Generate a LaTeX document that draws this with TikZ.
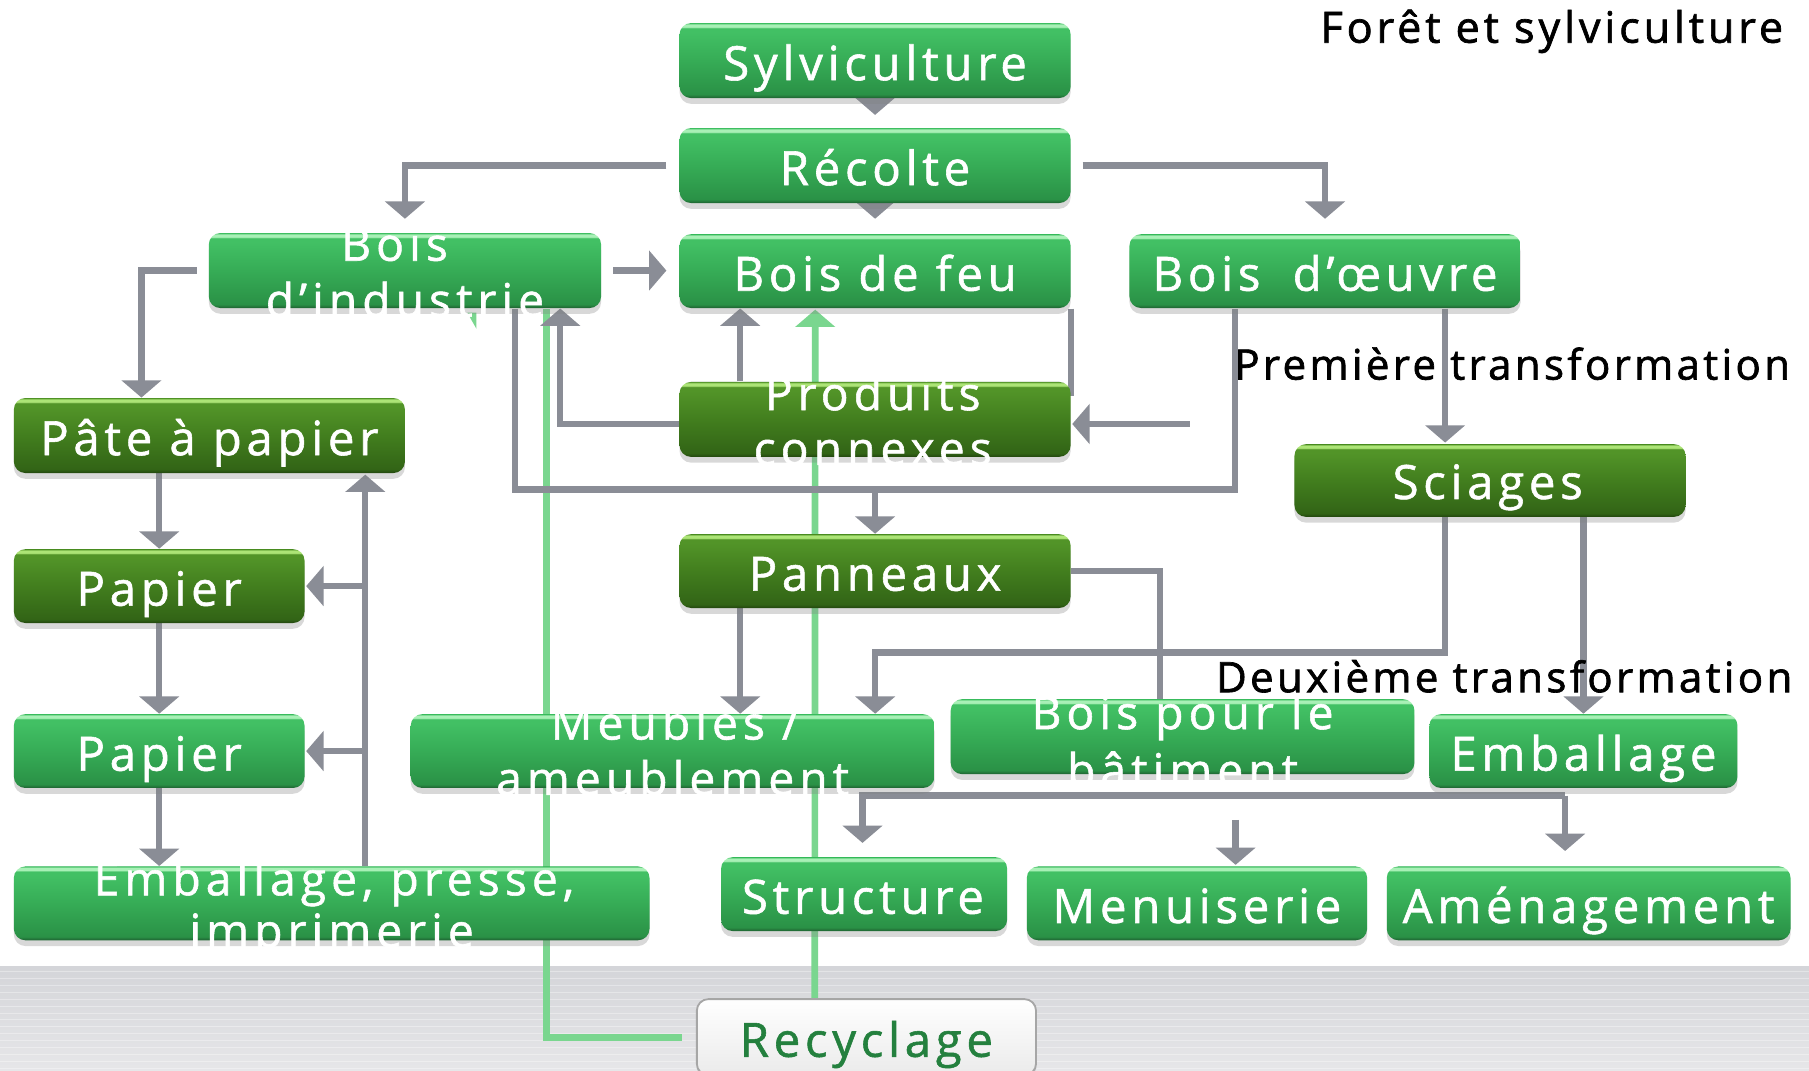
\documentclass[tikz,border=0pt]{standalone}
\usepackage{fontspec}
\setmainfont{Open Sans}
\newfontfamily\boxfont[LetterSpace=10,FakeBold=1.2]{Open Sans}
\newfontfamily\boxfontb[LetterSpace=11,FakeBold=1.2]{Open Sans}
\newfontfamily\labfont[LetterSpace=8,FakeBold=1.6]{Open Sans}
\newfontfamily\titfont[LetterSpace=9,FakeBold=1.6]{Open Sans}
\usetikzlibrary{arrows.meta,calc,shadows}

\definecolor{mH}{RGB}{168,240,182}
\definecolor{m0}{RGB}{66,192,100}
\definecolor{m1}{RGB}{54,172,86}
\definecolor{m2}{RGB}{42,145,70}
\definecolor{mB}{RGB}{30,96,48}
\definecolor{dH}{RGB}{172,228,118}
\definecolor{d0}{RGB}{82,148,40}
\definecolor{d1}{RGB}{66,126,30}
\definecolor{d2}{RGB}{50,100,22}
\definecolor{dB}{RGB}{34,70,14}
\definecolor{lgray}{RGB}{138,141,150}
\definecolor{lgreen}{RGB}{122,214,143}
\definecolor{rgreen}{RGB}{36,128,62}
\definecolor{band1}{RGB}{212,213,217}
\definecolor{band2}{RGB}{232,232,234}

\pgfdeclareverticalshading{medgreen}{100bp}{color(0bp)=(mB); color(25bp)=(mB); color(27.5bp)=(m2); color(50bp)=(m1); color(69bp)=(m0); color(71.5bp)=(m0); color(72.5bp)=(mH); color(74bp)=(mH); color(75bp)=(m0); color(100bp)=(m0)}
\pgfdeclareverticalshading{olivegreen}{100bp}{color(0bp)=(dB); color(25bp)=(dB); color(27.5bp)=(d2); color(50bp)=(d1); color(69bp)=(d0); color(71.5bp)=(d0); color(72.5bp)=(dH); color(74bp)=(dH); color(75bp)=(d0); color(100bp)=(d0)}

\pgfdeclarelayer{bg}
\pgfdeclarelayer{lines}
\pgfsetlayers{bg,lines,main}

\tikzset{
  gbox/.style={rounded corners=5pt, shade, shading=medgreen, inner sep=0pt,
    drop shadow={shadow xshift=0pt, shadow yshift=-2.5pt, opacity=0.3}},
  obox/.style={rounded corners=5pt, shade, shading=olivegreen, inner sep=0pt,
    drop shadow={shadow xshift=0pt, shadow yshift=-2.5pt, opacity=0.3}},
  rbox/.style={rounded corners=5pt, top color=white, bottom color=black!8, draw=black!35, line width=0.8pt, inner sep=0pt,
    drop shadow={shadow xshift=0pt, shadow yshift=-2pt, opacity=0.2}},
  bt/.style={text=white, font={\boxfont\fontsize{20.5pt}{24pt}\selectfont}, inner sep=0pt, anchor=base},
  btt/.style={text=white, font={\boxfontb\fontsize{20pt}{24pt}\selectfont}, inner sep=0pt, anchor=base},
  lab/.style={text=black, font={\labfont\fontsize{18.2pt}{22pt}\selectfont}, inner sep=0pt, anchor=base east},
  tit/.style={text=black, font={\titfont\fontsize{18.7pt}{22pt}\selectfont}, inner sep=0pt, anchor=base east},
  gline/.style={draw=lgray, line width=2.75pt},
  garrow/.style={gline, -{Triangle[width=17pt,length=7.5pt]}},
  greenl/.style={draw=lgreen, line width=2.9pt},
  greenarr/.style={greenl, -{Triangle[width=17pt,length=7.5pt]}}
}

\newcommand\mkbox[6]{\node[#6, minimum width={(#4-#2)*0.5pt}, minimum height={(#5-#3)*0.5pt}] (#1) at ({(#2+#4)/2},{(#3+#5)/2}) {};}

\begin{document}
\begin{tikzpicture}[x=0.5pt,y=-0.5pt]
\useasboundingbox (0,0) rectangle (1568,928);
\begin{pgfonlayer}{bg}
  \fill[white] (0,0) rectangle (1568,928);
  \shade[top color=band1, bottom color=band2] (0,838) rectangle (1568,935);
  \foreach \yy in {842,848,...,926} {\draw[white, opacity=0.35, line width=0.4pt] (0,\yy) -- (1568,\yy);}
\end{pgfonlayer}

% boxes
\mkbox{syl}{589}{20}{928}{85}{gbox}
\mkbox{rec}{589}{111}{928}{176}{gbox}
\mkbox{feu}{589}{203}{928}{267}{gbox}
\mkbox{ind}{181}{202}{521}{267}{gbox}
\mkbox{oeu}{979}{203}{1318}{267}{gbox}
\mkbox{pro}{589}{331}{928}{396}{obox}
\mkbox{pat}{12}{345}{351}{410}{obox}
\mkbox{sci}{1122}{385}{1461}{448}{obox}
\mkbox{pan}{589}{463}{928}{527}{obox}
\mkbox{pap1}{12}{476}{264}{540}{obox}
\mkbox{pap2}{12}{619}{264}{683}{gbox}
\mkbox{meu}{356}{619}{810}{683}{gbox}
\mkbox{bat}{824}{606}{1226}{671}{gbox}
\mkbox{emb}{1239}{619}{1506}{683}{gbox}
\mkbox{emp}{12}{751}{563}{815}{gbox}
\mkbox{str}{625}{743}{873}{807}{gbox}
\mkbox{men}{890}{751}{1185}{815}{gbox}
\mkbox{ame}{1202}{751}{1552}{815}{gbox}
\mkbox{rcy}{604}{866}{898}{932}{rbox}

% texts
\node[bt] (syl-t) at ($(syl.center)+(0,17)$) {Sylviculture};
\node[bt] (rec-t) at ($(rec.center)+(0,17)$) {Récolte};
\node[bt] (feu-t) at ($(feu.center)+(0,17)$) {Bois de feu};
\node[bt] (oeu-t) at ($(oeu.center)+(0,17)$) {Bois\hspace{14pt}d’œuvre};
\node[btt] (ind-t1) at ($(ind.center)+(-9,-8.5)$) {Bois};
\node[btt] (ind-t2) at ($(ind.center)+(0,40)$) {d’industrie};
\node[btt] (pro-t1) at ($(pro.center)+(-2,-8)$) {Produits};
\node[btt] (pro-t2) at ($(pro.center)+(-2,39.5)$) {connexes};
\node[bt] (pat-t) at ($(pat.center)+(0,17)$) {Pâte à papier};
\node[bt] (sci-t) at ($(sci.center)+(-2,16)$) {Sciages};
\node[bt] (pan-t) at ($(pan.center)+(0,17)$) {Panneaux};
\node[bt] (pap1-t) at ($(pap1.center)+(0,17)$) {Papier};
\node[bt] (pap2-t) at ($(pap2.center)+(0,17)$) {Papier};
\node[btt] (meu-t1) at ($(meu.center)+(2,-10)$) {Meubles /};
\node[btt] (meu-t2) at ($(meu.center)+(0,38)$) {ameublement};
\node[btt] (bat-t1) at ($(bat.center)+(0,-6.5)$) {Bois pour le};
\node[btt] (bat-t2) at ($(bat.center)+(0,43.5)$) {bâtiment};
\node[bt] (emb-t) at ($(emb.center)+(0,17)$) {Emballage};
\node[btt] (emp-t1) at ($(emp.center)+(2,-7)$) {Emballage, presse,};
\node[btt] (emp-t2) at ($(emp.center)+(0,38)$) {imprimerie};
\node[bt] (str-t) at ($(str.center)+(-1,17)$) {Structure};
\node[bt] (men-t) at ($(men.center)+(0,17)$) {Menuiserie};
\node[bt] (ame-t) at ($(ame.center)+(0,17)$) {Aménagement};
\node[bt, text=rgreen] (rcy-t) at ($(rcy.center)+(0,17)$) {Recyclage};

% labels
\node[tit] (title) at (1546,37) {Forêt et sylviculture};
\node[lab] (lab1) at (1552,329) {Première transformation};
\node[lab] (lab2) at (1554,600) {Deuxième transformation};

\begin{pgfonlayer}{lines}
  % green recycling lines
  \draw[greenl] ([xshift=-6pt]rcy.west) -| ($(ind.south west)+(293,0)$);
  \draw[greenarr] ($(rcy.north west)+(103,0)$) -- ($(feu.south west)+(118,1)$);
  \fill[lgreen] (405,271) -- (413,271) -- (413,285) -- cycle;
  % gray flow lines
  \draw[garrow, shorten >=5.5pt] (syl.south) -- (rec.north);
  \draw[garrow, shorten >=6.5pt] (rec.south) -- (feu.north);
  \draw[garrow, shorten >=6pt] ([xshift=-5.5pt]rec.west) -| (ind.north);
  \draw[garrow, shorten >=6.5pt] ([xshift=5pt]rec.east) -| (oeu.north);
  \draw[garrow, shorten <=5pt, shorten >=5.5pt] (ind.east) -- (ind.east -| feu.west);
  \draw[garrow] ([xshift=-5pt]ind.west) -| ($(pat.north west)+(111,0)$);
  \draw[garrow] ($(pro.north west)+(53,0)$) -- ($(feu.south west)+(53,0)$);
  \draw[garrow] ($(pro.west)+(0,4)$) -| ($(ind.south west)+(305,0)$);
  \draw[gline] (feu.south east) -- ($(pro.north east)+(0,13)$);
  \draw[garrow] ($(pro.east)+(103,4)$) -- ($(pro.east)+(1,4)$);
  \draw[gline] ($(ind.south west)+(266,0)$) |- ($(oeu.south west)+(92,157)$) -- ($(oeu.south west)+(92,0)$);
  \draw[garrow] ($(pan.north)+(0,-38)$) -- (pan.north);
  \draw[garrow] ($(oeu.south west)+(274,0)$) -- ($(sci.north west)+(131,-1)$);
  \draw[garrow] (pat.south -| pap1.north) -- (pap1.north);
  \draw[garrow] (pap1.south) -- (pap2.north);
  \draw[garrow] (pap2.south) -- (pap2.south |- emp.north);
  \draw[garrow] ($(emp.north west)+(305,0)$) -- ($(pat.south west)+(305,1)$);
  \draw[garrow] ($(pap1.east)+(53,0)$) -- ($(pap1.east)+(1,0)$);
  \draw[garrow] ($(pap2.east)+(53,0)$) -- ($(pap2.east)+(1,0)$);
  \draw[garrow] ($(pan.south west)+(53,0)$) -- ($(meu.north west)+(286,0)$);
  \draw[gline] (pan.east) -| ($(bat.north west)+(182,0)$);
  \draw[garrow] ($(sci.south west)+(131,0)$) |- ($(meu.north west)+(403,-53)$) -- ($(meu.north west)+(403,0)$);
  \draw[garrow] (emb.north |- sci.south) -- (emb.north);
  \draw[garrow] ($(ame.north west)+(155,-61)$) -| ($(str.north west)+(123,-12)$);
  \draw[garrow] ($(ame.north west)+(155,-61)$) -- ($(ame.north west)+(155,-13)$);
  \draw[garrow] ($(men.north)+(33.5,-40)$) -- ($(men.north)+(33.5,-1)$);
\end{pgfonlayer}
\end{tikzpicture}
\end{document}
